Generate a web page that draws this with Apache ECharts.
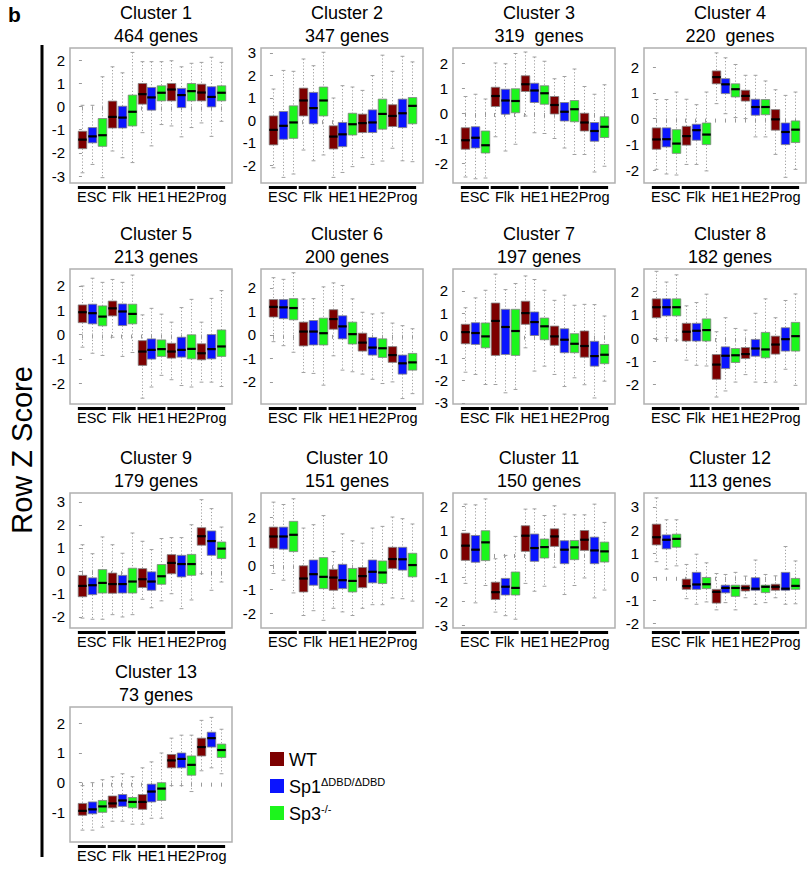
<!DOCTYPE html>
<html><head><meta charset="utf-8">
<script src="https://cdn.jsdelivr.net/npm/echarts@6/dist/echarts.min.js"></script>
<style>html,body{margin:0;padding:0;background:#fff}#c{width:811px;height:873px}</style>
</head><body><div id="c"></div>
<script>
const FONT = 'Liberation Sans, Arial, sans-serif';
const groups = ['ESC', 'Flk', 'HE1', 'HE2', 'Prog'];
const genotypes = ['WT', 'Sp1', 'Sp3'];
const genotypeColors = ['#7d0000', '#0a14ff', '#1cf51c'];
const clusterNames = ['Cluster 1','Cluster 2','Cluster 3','Cluster 4','Cluster 5','Cluster 6','Cluster 7','Cluster 8','Cluster 9','Cluster 10','Cluster 11','Cluster 12','Cluster 13'];
const geneCounts = ['464 genes','347 genes','319  genes','220  genes','213 genes','200 genes','197 genes','182 genes','179 genes','151 genes','150 genes','113 genes','73 genes'];
const yRanges = [[-3.3,2.52],[-2.8,3.22],[-2.8,2.6],[-2.5,2.74],[-2.86,2.7],[-2.94,2.8],[-3.05,2.98],[-2.83,2.96],[-2.48,3.39],[-2.62,3.0],[-3.12,2.57],[-2.2,3.6],[-2.0,2.55]];
const yTicks = [[-3,-2,-1,0,1,2],[-2,-1,0,1,2,3],[-2,-1,0,1,2],[-2,-1,0,1,2],[-2,-1,0,1,2],[-2,-1,0,1,2],[-3,-2,-1,0,1,2],[-2,-1,0,1,2,3],[-2,-1,0,1,2,3],[-2,-1,0,1,2],[-3,-2,-1,0,1,2],[-2,-1,0,1,2,3],[-1,0,1,2]];

// each box: [lowWhisker, Q1, median, Q3, highWhisker]; order ESC(WT,Sp1,Sp3), Flk(...), HE1, HE2, Prog
const cluster1 = [[-2.86,-1.82,-1.43,-1.07,0.05],[-2.5,-1.57,-1.29,-0.91,0.05],[-3.07,-1.72,-1.24,-0.52,1.28],[-1.92,-0.93,-0.45,0.23,1.71],[-2.21,-0.93,-0.48,0.01,1.45],[-2.42,-0.84,-0.23,0.49,2.33],[-1.13,0.1,0.53,0.99,1.93],[-1.7,-0.16,0.39,0.82,1.93],[-0.78,0.24,0.59,0.89,1.93],[-0.84,0.24,0.73,0.99,1.97],[-1.31,-0.05,0.49,0.78,1.71],[-0.91,0.24,0.66,0.99,1.86],[-0.71,0.24,0.6,0.96,1.9],[-1.29,-0.02,0.41,0.85,2.12],[-0.64,0.24,0.59,0.89,1.9]];
const cluster2 = [[-2.12,-1.1,-0.43,0.19,1.39],[-2.55,-0.85,-0.25,0.39,2.22],[-2.4,-0.81,-0.1,0.64,2.18],[-1.33,0.19,0.88,1.43,2.73],[-1.81,-0.16,0.54,1.24,2.43],[-1.55,0.19,0.88,1.48,3.03],[-2.55,-1.28,-0.73,-0.25,0.99],[-2.33,-1.18,-0.63,-0.1,1.54],[-2.07,-0.66,-0.18,0.31,1.48],[-1.67,-0.55,-0.13,0.27,1.33],[-1.97,-0.55,-0.1,0.46,1.99],[-1.82,-0.4,0.28,0.94,2.9],[-1.25,-0.28,0.19,0.69,2.18],[-1.81,-0.33,0.31,0.94,2.85],[-1.85,-0.16,0.64,1.01,2.6]];
const cluster3 = [[-2.56,-1.45,-1.09,-0.59,0.66],[-2.63,-1.4,-0.99,-0.55,0.75],[-2.6,-1.6,-1.29,-0.72,0.56],[-0.95,0.26,0.68,1.03,2.0],[-1.52,-0.05,0.5,0.95,1.97],[-1.25,0.01,0.48,0.97,2.38],[-0.12,0.86,1.15,1.49,2.44],[-0.79,0.42,0.9,1.19,2.24],[-0.82,0.35,0.79,1.09,2.07],[-1.02,-0.04,0.32,0.66,1.37],[-1.4,-0.32,0.05,0.42,1.46],[-1.66,-0.35,0.15,0.5,1.76],[-1.66,-0.72,-0.38,-0.01,1.06],[-2.36,-1.13,-0.72,-0.38,0.75],[-2.13,-0.98,-0.55,-0.15,1.13]];
const cluster4 = [[-1.97,-1.19,-0.81,-0.36,0.74],[-2.15,-1.1,-0.8,-0.36,0.74],[-2.19,-1.35,-0.97,-0.43,1.03],[-1.78,-1.03,-0.68,-0.3,0.75],[-1.78,-0.84,-0.45,-0.22,0.54],[-2.03,-1.01,-0.62,-0.17,1.03],[0.58,1.35,1.61,1.85,2.55],[0.19,0.97,1.33,1.55,2.36],[0.04,0.84,1.14,1.35,2.1],[0.0,0.68,0.88,1.1,1.68],[-0.71,0.13,0.45,0.75,1.68],[-0.71,0.15,0.45,0.74,1.46],[-1.39,-0.45,-0.03,0.35,1.12],[-2.28,-1.01,-0.52,-0.17,0.9],[-1.97,-0.93,-0.43,-0.09,1.03]];
const cluster5 = [[-0.52,0.49,0.92,1.22,2.0],[-0.77,0.44,0.88,1.25,2.32],[-0.86,0.36,0.74,1.18,2.15],[-0.11,0.77,1.08,1.38,2.27],[-0.9,0.37,0.95,1.26,2.15],[-0.74,0.44,0.85,1.25,2.45],[-2.62,-1.27,-0.7,-0.25,0.81],[-2.16,-1.01,-0.63,-0.18,1.08],[-1.68,-0.9,-0.6,-0.22,0.84],[-1.86,-0.97,-0.7,-0.36,0.51],[-2.1,-0.93,-0.63,-0.11,1.11],[-2.16,-1.0,-0.59,-0.01,1.45],[-1.96,-1.04,-0.77,-0.38,0.51],[-1.96,-1.0,-0.6,0.0,1.49],[-2.14,-0.9,-0.49,0.19,1.81]];
const cluster6 = [[-0.29,0.76,1.19,1.5,2.43],[-0.46,0.69,1.17,1.5,2.36],[-0.74,0.64,1.14,1.54,2.64],[-1.6,-0.47,0.14,0.54,1.53],[-1.64,-0.43,0.14,0.61,1.54],[-2.14,-0.43,0.07,0.71,2.04],[-0.89,0.24,0.67,1.07,2.21],[-1.5,-0.17,0.36,0.81,2.1],[-1.57,-0.39,0.03,0.54,1.53],[-1.67,-0.69,-0.33,0.07,0.96],[-1.89,-0.86,-0.54,-0.11,0.89],[-2.07,-0.96,-0.57,-0.17,0.93],[-2.0,-1.17,-0.86,-0.5,0.5],[-2.71,-1.67,-1.21,-0.86,0.39],[-2.5,-1.5,-1.17,-0.79,0.26]];
const cluster7 = [[-1.63,-0.36,0.16,0.51,1.25],[-1.73,-0.39,0.12,0.58,1.69],[-2.18,-0.54,-0.03,0.57,2.03],[-2.18,-0.88,0.66,1.46,2.75],[-2.55,-0.84,0.39,1.18,2.06],[-2.4,-0.88,0.21,1.18,2.33],[-0.54,0.51,1.01,1.54,2.67],[-1.58,0.01,0.61,1.06,2.51],[-1.36,-0.18,0.42,0.79,2.03],[-1.73,-0.43,-0.03,0.43,1.58],[-2.27,-0.76,-0.18,0.31,1.81],[-1.88,-0.76,-0.36,0.09,1.36],[-2.19,-0.96,-0.46,0.21,1.4],[-2.78,-1.36,-0.91,-0.25,1.39],[-2.03,-1.25,-0.85,-0.39,0.88]];
const cluster8 = [[-0.06,0.87,1.32,1.68,2.86],[0.01,0.95,1.32,1.68,2.4],[-0.09,0.95,1.32,1.68,2.71],[-0.95,-0.13,0.27,0.63,1.38],[-1.17,-0.13,0.31,0.63,1.52],[-1.2,-0.13,0.34,0.82,1.88],[-2.53,-1.77,-1.14,-0.71,0.27],[-2.27,-1.31,-0.76,-0.38,0.87],[-1.89,-1.05,-0.74,-0.45,0.41],[-1.57,-0.88,-0.69,-0.41,0.34],[-1.89,-0.78,-0.45,-0.06,1.06],[-1.91,-0.85,-0.49,0.24,1.68],[-1.89,-0.69,-0.28,0.08,0.87],[-1.34,-0.56,-0.05,0.44,1.61],[-2.03,-0.56,0.08,0.67,1.89]];
const cluster9 = [[-2.05,-1.12,-0.65,-0.19,1.14],[-2.1,-1.03,-0.62,-0.3,0.75],[-2.1,-0.96,-0.52,0.06,1.48],[-1.9,-0.97,-0.57,-0.09,1.14],[-2.0,-0.96,-0.57,-0.19,0.77],[-1.9,-0.96,-0.46,0.12,1.65],[-1.23,-0.72,-0.36,0.1,1.29],[-1.6,-0.84,-0.46,-0.04,0.93],[-1.3,-0.58,-0.23,0.28,1.41],[-0.99,-0.12,0.35,0.71,1.45],[-1.64,-0.26,0.3,0.68,1.45],[-1.26,-0.19,0.3,0.72,2.01],[-0.12,1.12,1.51,1.88,3.1],[-0.84,0.68,1.3,1.74,2.71],[-0.48,0.54,0.97,1.26,1.91]];
const cluster10 = [[-0.35,0.7,1.19,1.58,2.62],[-0.63,0.66,1.19,1.58,2.52],[-1.16,0.56,1.26,1.82,2.76],[-2.1,-1.12,-0.56,-0.03,1.54],[-1.9,-0.84,-0.38,0.21,1.68],[-2.3,-0.98,-0.49,0.31,2.06],[-1.8,-1.05,-0.52,-0.18,0.56],[-1.95,-0.98,-0.63,0.03,1.3],[-2.1,-1.12,-0.66,-0.14,1.01],[-1.8,-0.94,-0.46,-0.1,0.91],[-1.65,-0.74,-0.28,0.21,1.54],[-1.65,-0.77,-0.31,0.17,1.61],[-1.37,-0.14,0.25,0.74,2.0],[-1.4,-0.21,0.24,0.74,1.93],[-1.5,-0.49,0.0,0.49,1.71]];
const cluster11 = [[-1.24,-0.27,0.35,0.88,2.1],[-2.06,-0.35,0.18,0.78,2.07],[-1.33,-0.28,0.49,0.98,2.32],[-2.45,-1.92,-1.61,-1.19,-0.2],[-2.6,-1.73,-1.38,-1.03,-0.06],[-2.75,-1.73,-1.43,-0.76,0.74],[-1.24,0.11,0.77,1.19,1.89],[-1.57,-0.31,0.25,0.84,1.9],[-1.36,-0.17,0.29,0.63,1.62],[-0.56,0.32,0.74,1.06,2.03],[-1.71,-0.41,0.18,0.56,1.68],[-1.33,-0.24,0.28,0.57,1.65],[-1.01,0.15,0.6,0.99,1.65],[-1.85,-0.41,0.15,0.71,2.1],[-1.52,-0.34,0.11,0.5,1.33]];
const cluster12 = [[0.65,1.37,1.7,2.26,3.39],[0.33,1.2,1.59,1.8,2.45],[0.47,1.27,1.63,1.83,2.45],[-0.94,-0.54,-0.4,-0.1,0.53],[-1.18,-0.54,-0.33,0.19,0.97],[-1.08,-0.51,-0.32,-0.03,0.6],[-1.42,-1.13,-0.65,-0.54,0.14],[-1.11,-0.69,-0.48,-0.36,0.1],[-1.42,-0.84,-0.48,-0.36,0.19],[-0.9,-0.61,-0.48,-0.36,0.03],[-1.18,-0.58,-0.51,-0.04,0.72],[-1.11,-0.68,-0.43,-0.36,0.1],[-0.9,-0.58,-0.43,-0.32,0.04],[-1.18,-0.58,-0.51,0.19,1.3],[-1.16,-0.54,-0.39,-0.07,0.68]];
const cluster13 = [[-1.6,-1.1,-0.95,-0.7,-0.1],[-1.6,-1.05,-0.9,-0.65,0.0],[-1.5,-1.0,-0.8,-0.6,0.1],[-1.3,-0.85,-0.7,-0.45,0.2],[-1.3,-0.8,-0.6,-0.4,0.3],[-1.4,-0.85,-0.65,-0.5,0.2],[-1.4,-0.9,-0.65,-0.4,0.5],[-1.2,-0.65,-0.3,-0.05,0.7],[-1.2,-0.6,-0.2,0.0,1.0],[-0.1,0.5,0.75,0.95,1.5],[-0.1,0.5,0.8,1.0,1.6],[-0.3,0.25,0.6,0.9,1.6],[0.4,0.9,1.2,1.5,2.1],[0.5,1.2,1.5,1.7,2.2],[0.3,0.85,1.1,1.3,1.8]];
const clusters = [cluster1,cluster2,cluster3,cluster4,cluster5,cluster6,cluster7,cluster8,cluster9,cluster10,cluster11,cluster12,cluster13];

// layout
const colLeft = [70, 261, 453, 644];
const rowTop = [48, 269, 493, 707];
const PW = 162, PH = 135;
const boxIdx = [0,1,2,3,4,5,6,7,8,9,10,11,12,13,14];
const groupCenters = [1,4,7,10,13];

function renderBox(params, api) {
  const i = api.value(0);
  const lo = api.coord([i, api.value(1)]);
  const q1 = api.coord([i, api.value(2)]);
  const md = api.coord([i, api.value(3)]);
  const q3 = api.coord([i, api.value(4)]);
  const hi = api.coord([i, api.value(5)]);
  const w = api.size([0.86, 0])[0];
  const cw = w * 0.45;
  const x = Math.round(lo[0]) + 0.5;
  const color = genotypeColors[i % 3];
  const ws = {stroke: '#a0a0a0', lineWidth: 1, lineDash: [1.2, 2]};
  const cs = {stroke: '#a0a0a0', lineWidth: 1};
  return {type: 'group', children: [
    {type: 'line', shape: {x1: x, y1: hi[1], x2: x, y2: q3[1]}, style: ws},
    {type: 'line', shape: {x1: x, y1: q1[1], x2: x, y2: lo[1]}, style: ws},
    {type: 'line', shape: {x1: x - cw/2, y1: hi[1], x2: x + cw/2, y2: hi[1]}, style: cs},
    {type: 'line', shape: {x1: x - cw/2, y1: lo[1], x2: x + cw/2, y2: lo[1]}, style: cs},
    {type: 'rect', shape: {x: x - w/2, y: q3[1], width: w, height: q1[1] - q3[1]}, style: {fill: color, stroke: '#808080', lineWidth: 0.8}},
    {type: 'line', shape: {x1: x - w/2, y1: md[1], x2: x + w/2, y2: md[1]}, style: {stroke: '#000', lineWidth: 2.2}}
  ]};
}

const grids = [], xAxes = [], yAxes = [], series = [], titles = [];
clusters.forEach((c, k) => {
  const left = colLeft[k % 4], top = rowTop[Math.floor(k / 4)];
  grids.push({left: left, top: top, width: PW, height: PH, show: true, borderColor: '#b0b0b0', borderWidth: 1.5, backgroundColor: '#fff', containLabel: false});
  xAxes.push({
    gridIndex: k, type: 'value', min: -1.2, max: 15.1,
    axisLine: {show: false}, splitLine: {show: false},
    axisTick: {show: true, customValues: boxIdx, length: 4, lineStyle: {color: '#9a9a9a', width: 1}},
    axisLabel: {show: true, customValues: groupCenters, margin: 3, hideOverlap: false, showMinLabel: true, showMaxLabel: true,
      formatter: v => '{b| }\n{t|' + groups[Math.round((v - 1) / 3)] + '}',
      rich: {b: {width: 28, height: 3, lineHeight: 3, backgroundColor: '#000'},
             t: {fontSize: 14.5, lineHeight: 15, color: '#000', fontFamily: FONT}}}
  });
  yAxes.push({
    gridIndex: k, type: 'value', min: yRanges[k][0], max: yRanges[k][1],
    axisLine: {show: false}, splitLine: {show: false},
    axisTick: {show: true, customValues: yTicks[k], length: 3, lineStyle: {color: '#9a9a9a'}},
    axisLabel: {show: true, customValues: yTicks[k], margin: 5, fontSize: 15, color: '#000', fontFamily: FONT, hideOverlap: false}
  });
  series.push({
    type: 'custom', xAxisIndex: k, yAxisIndex: k, clip: false,
    data: c.map((b, i) => [i].concat(b)),
    encode: {x: 0, y: [1, 2, 3, 4, 5]},
    renderItem: renderBox, silent: true
  });
  titles.push({
    text: clusterNames[k] + '\n' + geneCounts[k],
    left: left + PW / 2, top: top - 52, textAlign: 'center',
    textStyle: {fontSize: 18, fontWeight: 'normal', color: '#000', fontFamily: FONT, lineHeight: 23}
  });
});

const chart = echarts.init(document.getElementById('c'), null, {renderer: 'svg'});
chart.setOption({
  animation: false,
  backgroundColor: '#fff',
  title: titles,
  grid: grids, xAxis: xAxes, yAxis: yAxes, series: series,
  graphic: [
    {type: 'text', left: 8, top: 4, style: {text: 'b', fontSize: 21, fontWeight: 'bold', fill: '#000', fontFamily: FONT}},
    {type: 'line', shape: {x1: 42, y1: 45, x2: 42, y2: 857}, style: {stroke: '#000', lineWidth: 3}},
    {type: 'text', x: 22, y: 450, rotation: Math.PI / 2, style: {text: 'Row Z Score', fontSize: 29, fill: '#000', fontFamily: FONT, align: 'center', verticalAlign: 'middle'}},
    {type: 'rect', shape: {x: 270, y: 752, width: 14, height: 14}, style: {fill: genotypeColors[0]}},
    {type: 'rect', shape: {x: 270, y: 779, width: 14, height: 14}, style: {fill: genotypeColors[1]}},
    {type: 'rect', shape: {x: 270, y: 806, width: 14, height: 14}, style: {fill: genotypeColors[2]}},
    {type: 'text', x: 289, y: 760, style: {text: genotypes[0], fontSize: 18, fill: '#000', fontFamily: FONT, verticalAlign: 'middle'}},
    {type: 'text', x: 289, y: 787, style: {text: '{n|Sp1}{s|ΔDBD/ΔDBD}', verticalAlign: 'middle', rich: {n: {fontSize: 18, fontFamily: FONT, fill: '#000'}, s: {fontSize: 11, fontFamily: FONT, fill: '#000', padding: [0, 0, 10, 0]}}}},
    {type: 'text', x: 289, y: 814, style: {text: '{n|Sp3}{s|-/-}', verticalAlign: 'middle', rich: {n: {fontSize: 18, fontFamily: FONT, fill: '#000'}, s: {fontSize: 11, fontFamily: FONT, fill: '#000', padding: [0, 0, 10, 0]}}}}
  ]
});
</script></body></html>
